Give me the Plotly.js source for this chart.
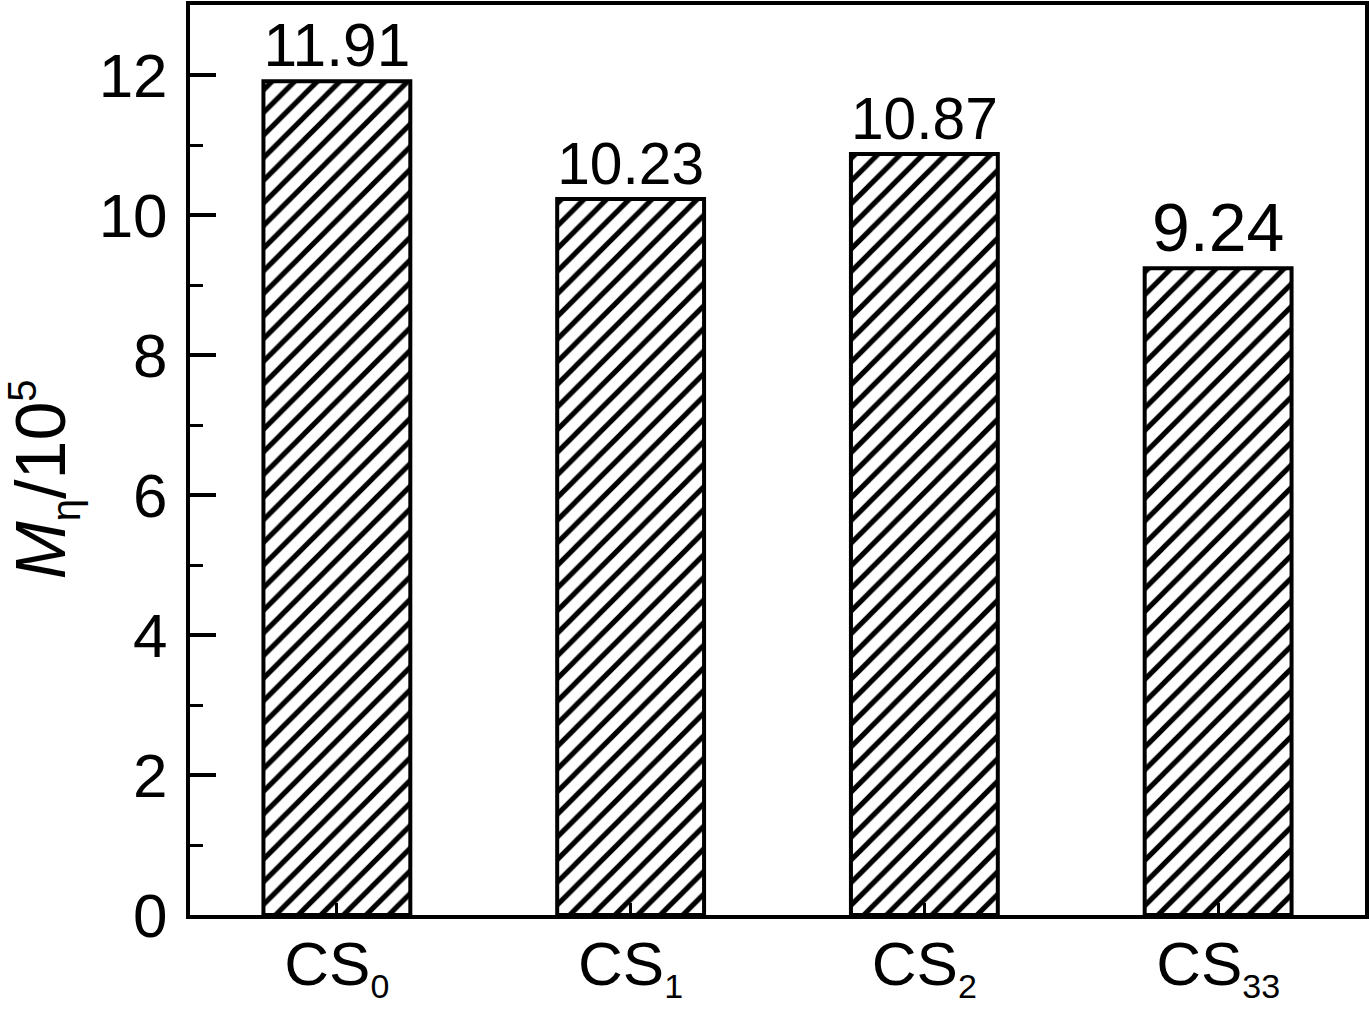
<!DOCTYPE html>
<html>
<head>
<meta charset="utf-8">
<script src="https://cdn.plot.ly/plotly-3.0.1.min.js"></script>
<style>
  body { margin: 0; background: #fff; }
  #plot { width: 1369px; height: 1010px; }
</style>
</head>
<body>
<div id="plot"></div>
<script>
const sub = s => '<sub><span style="font-size:34px">' + s + '</span></sub>';
const samples = ['CS' + sub('0'), 'CS' + sub('1'), 'CS' + sub('2'), 'CS' + sub('33')];
const mnValues = [11.91, 10.23, 10.87, 9.24];
const valueLabels = ['11.91', '10.23', '10.87', '9.24'];

const fam = 'Liberation Sans, Arial, sans-serif';

const trace = {
    x: samples,
    y: mnValues,
    type: 'bar',
    width: 0.5,
    text: valueLabels,
    textposition: 'outside',
    cliponaxis: false,
    textfont: { family: fam, size: 68, color: '#000' },
    marker: {
        color: '#fff',
        line: { color: '#000', width: 4 },
        pattern: { shape: '/', fgcolor: '#000', bgcolor: '#fff', size: 16, solidity: 0.32 }
    },
    hoverinfo: 'none'
};

const layout = {
    width: 1369,
    height: 1010,
    margin: { l: 190, r: 4, t: 5, b: 95 },
    paper_bgcolor: '#fff',
    plot_bgcolor: '#fff',
    font: { family: fam, size: 62, color: '#000' },
    showlegend: false,
    xaxis: {
        type: 'category',
        range: [-0.5, 3.5],
        showline: true,
        linecolor: '#000',
        linewidth: 4,
        mirror: true,
        ticks: 'inside',
        ticklen: 12,
        tickwidth: 3,
        tickcolor: '#000',
        ticklabelstandoff: -8,
        showgrid: false,
        zeroline: false,
        layer: 'above traces',
        tickfont: { family: fam, size: 62, color: '#000' }
    },
    yaxis: {
        range: [0, 13],
        dtick: 2,
        tick0: 0,
        showline: true,
        linecolor: '#000',
        linewidth: 4,
        mirror: true,
        ticks: 'inside',
        ticklen: 26,
        tickwidth: 4,
        tickcolor: '#000',
        ticklabelstandoff: 6,
        showgrid: false,
        zeroline: false,
        tickfont: { family: fam, size: 62, color: '#000' },
        minor: { ticks: 'inside', ticklen: 13, tickwidth: 3, tickcolor: '#000', dtick: 1, showgrid: false },
        title: {
            text: '<i>M</i><sub><span style="font-size:40px">η</span></sub>/10<sup><span style="font-size:40px">5</span></sup>&nbsp;&nbsp;',
            font: { family: fam, size: 70, color: '#000' },
            standoff: 40
        }
    }
};

Plotly.newPlot('plot', [trace], layout, { staticPlot: true });
</script>
</body>
</html>
